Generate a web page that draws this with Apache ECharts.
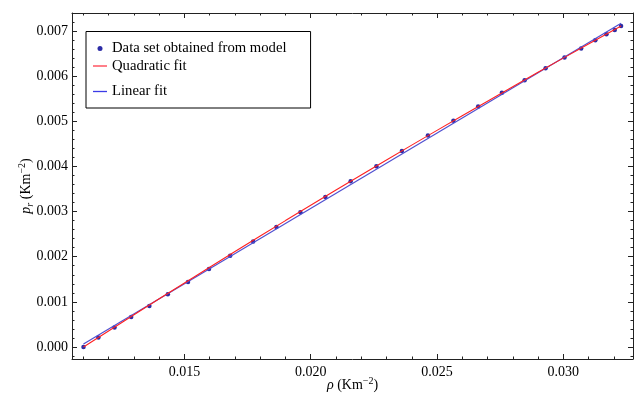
<!DOCTYPE html>
<html>
<head>
<meta charset="utf-8">
<script src="https://cdn.jsdelivr.net/npm/echarts@6/dist/echarts.min.js"></script>
<style>
  html, body { margin: 0; padding: 0; background: #fff; }
  #chart { width: 638px; height: 403px; }
</style>
</head>
<body>
<div id="chart"></div>
<script>
// ---- Data ----
const rhoValues = [0.01100, 0.01159, 0.01223, 0.01289, 0.01361, 0.01434, 0.01514, 0.01597,
                   0.01681, 0.01772, 0.01864, 0.01959, 0.02058, 0.02158, 0.02260, 0.02361,
                   0.02464, 0.02565, 0.02663, 0.02757, 0.02847, 0.02930, 0.03005, 0.03071,
                   0.03127, 0.03171, 0.03204, 0.03229];
const prValues = [0.000000, 0.000210, 0.000432, 0.000665, 0.000908, 0.001170, 0.001440, 0.001728,
                  0.002020, 0.002337, 0.002658, 0.002984, 0.003323, 0.003671, 0.004003, 0.004342,
                  0.004685, 0.005011, 0.005327, 0.005631, 0.005910, 0.006174, 0.006413, 0.006612,
                  0.006794, 0.006929, 0.007022, 0.007111];
// Quadratic fit curve
const quadRho = [0.011, 0.013, 0.015, 0.017, 0.019, 0.021, 0.023, 0.025, 0.027, 0.029, 0.031, 0.03229];
const quadPr  = [0.000000, 0.000714, 0.001419, 0.002114, 0.002800, 0.003476, 0.004142, 0.004799,
                 0.005446, 0.006084, 0.006712, 0.007111];
// Linear fit line end points
const linRho = [0.011, 0.03229];
const linPr  = [0.000066, 0.00717];

const seriesNames = ['Data set obtained from model', 'Quadratic fit', 'Linear fit'];

const xRange = [0.010545, 0.032762];
const yRange = [-0.000266, 0.0073987];

const FONT = "'Liberation Serif', 'Times New Roman', serif";
const zip = (a, b) => a.map((v, i) => [v, b[i]]);

function axisBase(extra) {
  return Object.assign({
    type: 'value',
    splitNumber: 5,
    axisLine: { show: true, onZero: false, lineStyle: { color: '#222', width: 1 } },
    axisTick: { show: true, inside: true, length: 5, lineStyle: { color: '#222', width: 1 } },
    minorTick: { show: true, splitNumber: 5, length: 2.5, lineStyle: { color: '#222', width: 1 } },
    splitLine: { show: false },
    minorSplitLine: { show: false }
  }, extra);
}

const chart = echarts.init(document.getElementById('chart'), null, { renderer: 'canvas' });
chart.setOption({
  animation: false,
  backgroundColor: '#fff',
  textStyle: { fontFamily: FONT },
  grid: { left: 72, right: 5, top: 13, bottom: 44 },
  legend: {
    selectedMode: false,
    orient: 'vertical',
    left: 86,
    top: 31.5,
    padding: [9.5, 24, 1, 7],
    itemGap: 0,
    itemWidth: 14,
    itemHeight: 5,
    backgroundColor: '#fff',
    borderColor: '#000',
    borderWidth: 1,
    textStyle: { fontFamily: FONT, fontSize: 14.7, color: '#000' },
    data: [
      { name: seriesNames[0], icon: 'circle', textStyle: { lineHeight: 14 } },
      { name: seriesNames[1], icon: 'path://M0,0L14,0L14,1.3L0,1.3Z', textStyle: { lineHeight: 20 } },
      { name: seriesNames[2], icon: 'path://M0,0L14,0L14,1.3L0,1.3Z', textStyle: { lineHeight: 31 } }
    ]
  },
  xAxis: [
    axisBase({
      position: 'bottom',
      min: xRange[0], max: xRange[1],
      axisLabel: {
        show: true, margin: 6, color: '#000', fontFamily: FONT, fontSize: 14,
        showMinLabel: false, showMaxLabel: false,
        formatter: v => v.toFixed(3)
      },
      name: '{i|ρ} (Km{sup|−2})',
      nameLocation: 'middle',
      nameMoveOverlap: false,
      nameGap: 17,
      nameTextStyle: {
        color: '#000', fontFamily: FONT, fontSize: 14, lineHeight: 18,
        rich: {
          i: { fontStyle: 'italic', fontFamily: FONT, fontSize: 14, color: '#000' },
          sup: { fontFamily: FONT, fontSize: 10, color: '#000', verticalAlign: 'top' }
        }
      }
    }),
    axisBase({
      position: 'top',
      min: xRange[0], max: xRange[1],
      axisLabel: { show: false }
    })
  ],
  yAxis: [
    axisBase({
      position: 'left',
      splitNumber: 7,
      min: yRange[0], max: yRange[1],
      axisLabel: {
        show: true, margin: 4, color: '#000', fontFamily: FONT, fontSize: 14,
        showMinLabel: false, showMaxLabel: false,
        formatter: v => v.toFixed(3)
      },
      name: '{i|p}{sub|r} (Km{sup|−2})',
      nameLocation: 'middle',
      nameRotate: 90,
      nameMoveOverlap: false,
      nameGap: 37,
      nameTextStyle: {
        color: '#000', fontFamily: FONT, fontSize: 14, lineHeight: 18,
        rich: {
          i: { fontStyle: 'italic', fontFamily: FONT, fontSize: 14, color: '#000' },
          sub: { fontStyle: 'italic', fontFamily: FONT, fontSize: 10, color: '#000', verticalAlign: 'bottom' },
          sup: { fontFamily: FONT, fontSize: 10, color: '#000', verticalAlign: 'top' }
        }
      }
    }),
    axisBase({
      position: 'right',
      splitNumber: 7,
      min: yRange[0], max: yRange[1],
      axisLabel: { show: false }
    })
  ],
  series: [
    {
      name: seriesNames[0],
      type: 'scatter',
      symbol: 'circle',
      symbolSize: 4.5,
      itemStyle: { color: '#2c2ca6', opacity: 1 },
      z: 2,
      data: zip(rhoValues, prValues)
    },
    {
      name: seriesNames[2],
      type: 'line',
      symbol: 'none',
      itemStyle: { color: '#3b3be6' },
      lineStyle: { color: '#5050d0', width: 1.2 },
      z: 3,
      data: zip(linRho, linPr)
    },
    {
      name: seriesNames[1],
      type: 'line',
      symbol: 'none',
      smooth: true,
      itemStyle: { color: '#ff3a4a' },
      lineStyle: { color: '#ff2020', width: 1.1 },
      z: 4,
      data: zip(quadRho, quadPr)
    }
  ]
});
</script>
</body>
</html>
